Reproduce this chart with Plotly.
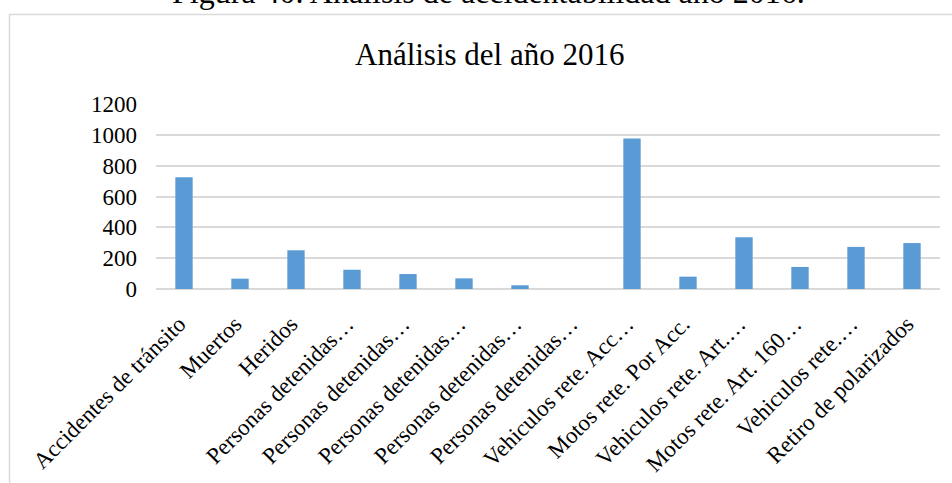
import plotly.graph_objects as go

# Categories as shown on the axis (long names are cut with an ellipsis)
categories = [
    "Accidentes de tránsito",
    "Muertos",
    "Heridos",
    "Personas detenidas…",
    "Personas detenidas…",
    "Personas detenidas…",
    "Personas detenidas…",
    "Personas detenidas…",
    "Vehiculos rete. Acc…",
    "Motos rete. Por Acc.",
    "Vehiculos rete. Art.…",
    "Motos rete. Art. 160…",
    "Vehiculos rete.…",
    "Retiro de polarizados",
]
values = [725, 67, 251, 125, 97, 69, 24, 0, 976, 80, 335, 143, 273, 298]
y_ticks = [0, 200, 400, 600, 800, 1000, 1200]

caption = "Figura 40. Análisis de accidentabilidad año 2016."
chart_title = "Análisis del año 2016"

FONT = "Liberation Serif, Times New Roman, serif"
BAR_COLOR = "#5b9bd5"
GRID_COLOR = "#d9d9d9"

W, H = 952, 483
L, R, T, B = 156, 12, 104, 194
plot_w = W - L - R
plot_h = H - T - B


def px_x(px):
    return (px - L) / plot_w


def px_y(py):
    return (H - B - py) / plot_h


positions = list(range(len(categories)))

fig = go.Figure(
    go.Bar(
        x=positions,
        y=values,
        marker=dict(color=BAR_COLOR, line=dict(width=0)),
        width=0.31,
        hoverinfo="y",
    )
)

fig.update_layout(
    width=W,
    height=H,
    margin=dict(l=L, r=R, t=T, b=B, pad=0, autoexpand=False),
    paper_bgcolor="white",
    plot_bgcolor="white",
    showlegend=False,
    font=dict(family=FONT, color="#000000"),
)

fig.update_xaxes(
    range=[-0.5, len(categories) - 0.5],
    tickmode="array",
    tickvals=positions,
    ticktext=categories,
    tickangle=-45,
    tickfont=dict(family=FONT, size=23, color="#000000"),
    showgrid=False,
    showline=False,
    zeroline=False,
    ticks="",
    ticklabelstandoff=16,
    ticklabelshift=-5,
    automargin=False,
)

fig.update_yaxes(
    range=[0, 1200],
    tickmode="array",
    tickvals=y_ticks,
    ticktext=[str(v) for v in y_ticks],
    tickfont=dict(family=FONT, size=23, color="#000000"),
    showgrid=True,
    gridcolor=GRID_COLOR,
    gridwidth=1.6,
    zeroline=True,
    zerolinecolor=GRID_COLOR,
    zerolinewidth=1.6,
    showline=False,
    ticks="",
    ticklabelstandoff=18,
    automargin=False,
)

# Chart frame around the plot (extends past the right and bottom edges)
fig.add_shape(
    type="rect",
    xref="paper",
    yref="paper",
    x0=px_x(9.5),
    x1=px_x(965),
    y0=px_y(495),
    y1=px_y(14.5),
    line=dict(color=GRID_COLOR, width=1.5),
    fillcolor="rgba(0,0,0,0)",
    layer="below",
)

# Chart title
fig.add_annotation(
    text=chart_title,
    xref="paper",
    yref="paper",
    x=px_x(490),
    y=px_y(54),
    xanchor="center",
    yanchor="middle",
    showarrow=False,
    font=dict(family=FONT, size=31, color="#000000"),
)

# Figure caption above the frame
fig.add_annotation(
    text=caption,
    xref="paper",
    yref="paper",
    x=px_x(488),
    y=px_y(-8),
    xanchor="center",
    yanchor="middle",
    showarrow=False,
    font=dict(family=FONT, size=32, color="#000000"),
)

fig.write_html("out.html")
